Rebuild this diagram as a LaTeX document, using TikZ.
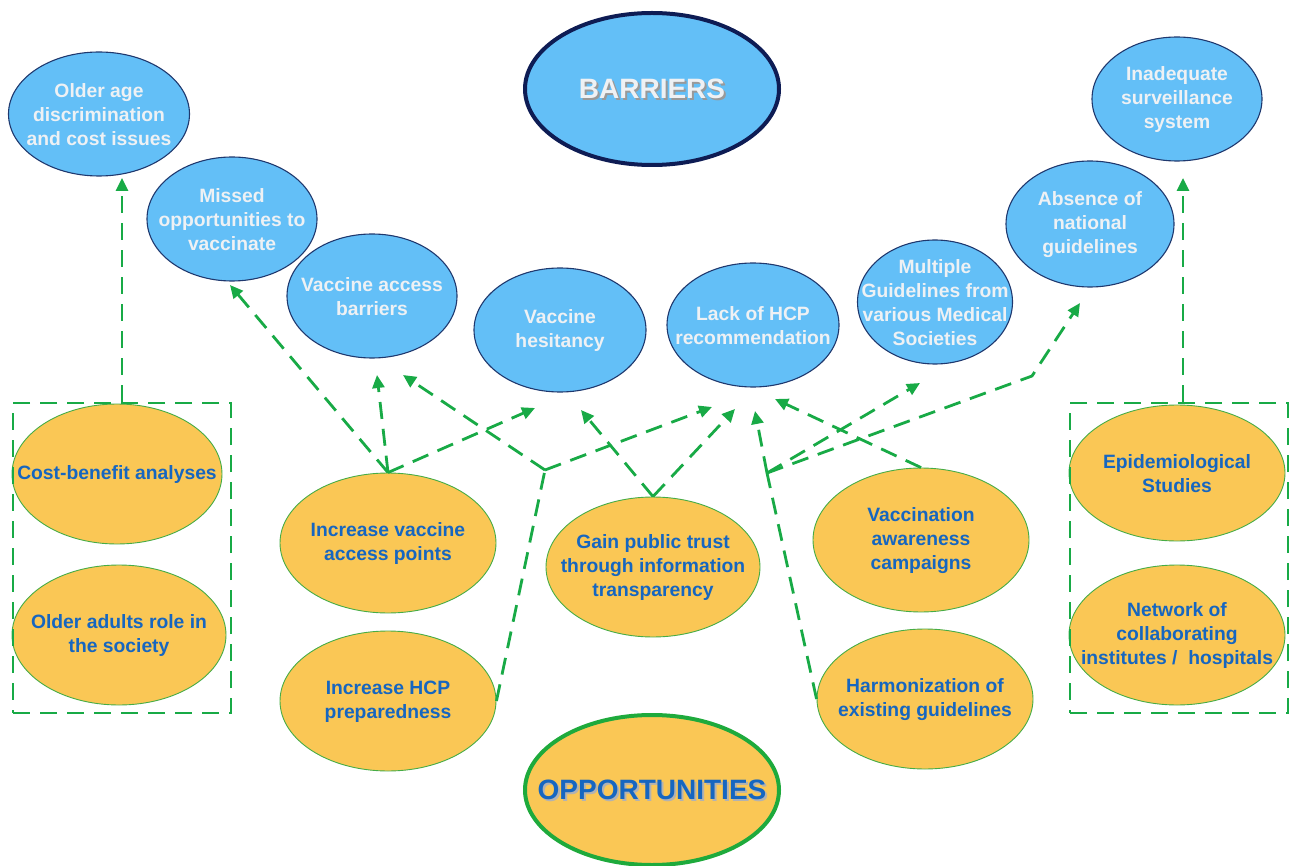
\documentclass[tikz,border=0pt]{standalone}
\usepackage{fontspec}
\setmainfont{Liberation Sans}
\usetikzlibrary{shapes.geometric,arrows.meta}

\definecolor{barfill}{RGB}{99,191,247}
\definecolor{barline}{RGB}{31,56,110}
\definecolor{barbold}{RGB}{14,28,84}
\definecolor{barText}{RGB}{238,241,244}
\definecolor{oppfill}{RGB}{250,199,85}
\definecolor{oppline}{RGB}{70,172,70}
\definecolor{oppbold}{RGB}{30,170,60}
\definecolor{oppText}{RGB}{22,102,192}
\definecolor{linkgreen}{RGB}{24,170,70}

\tikzset{
  txt/.style={font=\fontsize{19.3}{24}\selectfont\bfseries, align=center, inner sep=0pt},
  barrier/.style={ellipse, draw=barline, line width=1.1pt, fill=barfill, inner sep=0pt,
    label={[txt, text=barText, yshift=-1pt]center:{#1}}},
  opportunity/.style={ellipse, draw=oppline, line width=0.9pt, fill=oppfill, inner sep=0pt,
    label={[txt, text=oppText, yshift=-1pt]center:{#1}}},
  bigtitle/.style={font=\fontsize{28}{32}\selectfont\bfseries, inner sep=0pt},
  groupbox/.style={draw=linkgreen, line width=2.8pt, dash pattern=on 17pt off 10pt,
    minimum width=218pt, minimum height=310pt, inner sep=0pt},
  link/.style={draw=linkgreen, line width=2.8pt, dash pattern=on 17pt off 10pt},
  tip/.style={link, -{Triangle[length=13pt,width=12pt]}}
}

\begin{document}
\begin{tikzpicture}[x=1pt,y=-1pt]
\useasboundingbox (0,0) rectangle (1290,866);

% ---- title ellipses ----
\node[ellipse, draw=barbold, line width=4pt, fill=barfill, minimum width=254pt, minimum height=152pt] (barriers) at (652,89) {};
\node[bigtitle, text=black!40] (barshadow) at (654,91) {BARRIERS};
\node[bigtitle, text=barText] (bartitle) at (652,89) {BARRIERS};

\node[ellipse, draw=oppbold, line width=4pt, fill=oppfill, minimum width=254pt, minimum height=150pt] (opportunities) at (652,790) {};
\node[bigtitle, text=black!30] (oppshadow) at (654,792) {OPPORTUNITIES};
\node[bigtitle, text=oppText] (opptitle) at (652,790) {OPPORTUNITIES};

% ---- barriers ----
\node[barrier={Older age\\discrimination\\and cost issues}, minimum width=181pt, minimum height=124pt] (old) at (99,114) {};
\node[barrier={Missed\\opportunities to\\vaccinate}, minimum width=170pt, minimum height=124pt] (missed) at (232,219) {};
\node[barrier={Vaccine access\\barriers}, minimum width=170pt, minimum height=124pt] (access) at (372,296) {};
\node[barrier={Vaccine\\hesitancy}, minimum width=172pt, minimum height=124pt] (hesit) at (560,330) {};
\node[barrier={Lack of HCP\\recommendation}, minimum width=172pt, minimum height=124pt] (hcp) at (753,325) {};
\node[barrier={Multiple\\Guidelines from\\various Medical\\Societies}, minimum width=155pt, minimum height=124pt] (multi) at (935,302) {};
\node[barrier={Absence of\\national\\guidelines}, minimum width=168pt, minimum height=126pt] (absence) at (1090,224) {};
\node[barrier={Inadequate\\surveillance\\system}, minimum width=170pt, minimum height=124pt] (inad) at (1177,99) {};

% ---- opportunities ----
\node[opportunity={Cost-benefit analyses}, minimum width=210pt, minimum height=140pt] (cost) at (117,474) {};
\node[opportunity={Older adults role in\\the society}, minimum width=214pt, minimum height=140pt] (role) at (119,635) {};
\node[opportunity={Increase vaccine\\access points}, minimum width=216pt, minimum height=140pt] (points) at (388,543) {};
\node[opportunity={Increase HCP\\preparedness}, minimum width=216pt, minimum height=140pt] (prep) at (388,701) {};
\node[opportunity={Gain public trust\\through information\\transparency}, minimum width=214pt, minimum height=140pt] (trust) at (653,567) {};
\node[opportunity={Vaccination\\awareness\\campaigns}, minimum width=216pt, minimum height=144pt] (aware) at (921,540) {};
\node[opportunity={Harmonization of\\existing guidelines}, minimum width=216pt, minimum height=140pt] (harm) at (925,699) {};
\node[opportunity={Epidemiological\\Studies}, minimum width=216pt, minimum height=136pt] (epi) at (1177,473) {};
\node[opportunity={Network of\\collaborating\\institutes /~~hospitals}, minimum width=216pt, minimum height=140pt] (net) at (1177,635) {};

% ---- dashed group frames ----
\node[groupbox] (lbox) at (122,558) {};
\node[groupbox] (rbox) at (1179,558) {};

% ---- arrow end points and bends ----
\coordinate (tOld) at (122,178);
\coordinate (tInad) at (1183,178);
\coordinate (tMissed) at (230,285);
\coordinate (tAccA) at (377,375);
\coordinate (tAccB) at (403,375);
\coordinate (tHesA) at (535,408);
\coordinate (tHesB) at (581,410);
\coordinate (tHcpA) at (712,407);
\coordinate (tHcpB) at (735,409);
\coordinate (tHcpC) at (755,411);
\coordinate (tHcpD) at (775,399);
\coordinate (tMulti) at (920,383);
\coordinate (tAbs) at (1080,303);
\coordinate (jPrep) at (545,470);
\coordinate (jHarm) at (767,473);
\coordinate (kAbs) at (1032,376);

% ---- connectors ----
\draw[tip] (lbox.north) -- (tOld);
\draw[tip] (rbox.north -| tInad) -- (tInad);

\draw[tip] (points.north) -- (tMissed);
\draw[tip] (points.north) -- (tAccA);
\draw[tip] (points.north) -- (tHesA);

\draw[link] (prep.east) -- (jPrep);
\draw[tip] (jPrep) -- (tAccB);
\draw[tip] (jPrep) -- (tHcpA);

\draw[tip] (trust.north) -- (tHesB);
\draw[tip] (trust.north) -- (tHcpB);

\draw[link] (harm.west) -- (jHarm);
\draw[tip] (jHarm) -- (tHcpC);
\draw[tip] (jHarm) -- (tMulti);
\draw[tip] (jHarm) -- (kAbs) -- (tAbs);

\draw[tip] (aware.north) -- (tHcpD);
\end{tikzpicture}
\end{document}
